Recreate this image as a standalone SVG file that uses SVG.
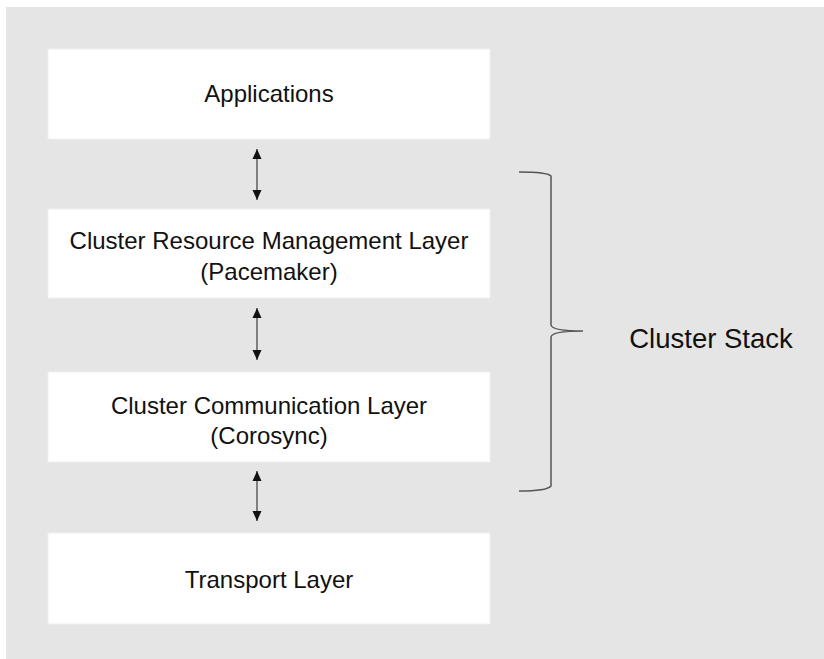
<svg xmlns="http://www.w3.org/2000/svg" width="824" height="659" viewBox="0 0 824 659">
  <style>
    .box { fill: #ffffff; stroke: #f0f0f0; stroke-width: 1; }
    .lbl { font-family: "Liberation Sans", Arial, sans-serif; font-size: 24px; fill: #111111; text-anchor: middle; }
    .conn { stroke: #666666; stroke-width: 1.6; fill: none; marker-start: url(#ah); marker-end: url(#ah); }
    .brace { stroke: #555555; stroke-width: 1.5; fill: none; }
  </style>
  <defs>
    <marker id="ah" viewBox="0 0 10 10" refX="10" refY="5" markerWidth="10" markerHeight="10" markerUnits="userSpaceOnUse" orient="auto-start-reverse">
      <path d="M0,0.5 L10,5 L0,9.5 Z" fill="#111111"/>
    </marker>
  </defs>
  <rect x="0" y="0" width="824" height="659" fill="#ffffff"/>
  <rect x="6" y="7" width="818" height="652" fill="#e5e5e5"/>

  <g id="applications">
    <rect class="box" x="48" y="49" width="442" height="90"/>
    <text class="lbl" x="269" y="102">Applications</text>
  </g>
  <g id="resource-management">
    <rect class="box" x="48" y="209" width="442" height="89"/>
    <text class="lbl" x="269" y="249">Cluster Resource Management Layer</text>
    <text class="lbl" x="269" y="280">(Pacemaker)</text>
  </g>
  <g id="communication">
    <rect class="box" x="48" y="372" width="442" height="90"/>
    <text class="lbl" x="269" y="414">Cluster Communication Layer</text>
    <text class="lbl" x="269" y="444">(Corosync)</text>
  </g>
  <g id="transport">
    <rect class="box" x="48" y="533" width="442" height="91"/>
    <text class="lbl" x="269" y="588">Transport Layer</text>
  </g>

  <g id="connectors">
    <line class="conn" x1="257" y1="149" x2="257" y2="200"/>
    <line class="conn" x1="257" y1="308" x2="257" y2="360"/>
    <line class="conn" x1="257" y1="471" x2="257" y2="521"/>
  </g>

  <g id="cluster-stack">
    <path class="brace" d="M519,172 Q547,172 551,176 L551,325 Q552,331 583,331 Q552,331 551,337 L551,486 Q547,491 519,491"/>
    <text class="lbl" x="711" y="348" style="font-size:27.5px">Cluster Stack</text>
  </g>
</svg>
